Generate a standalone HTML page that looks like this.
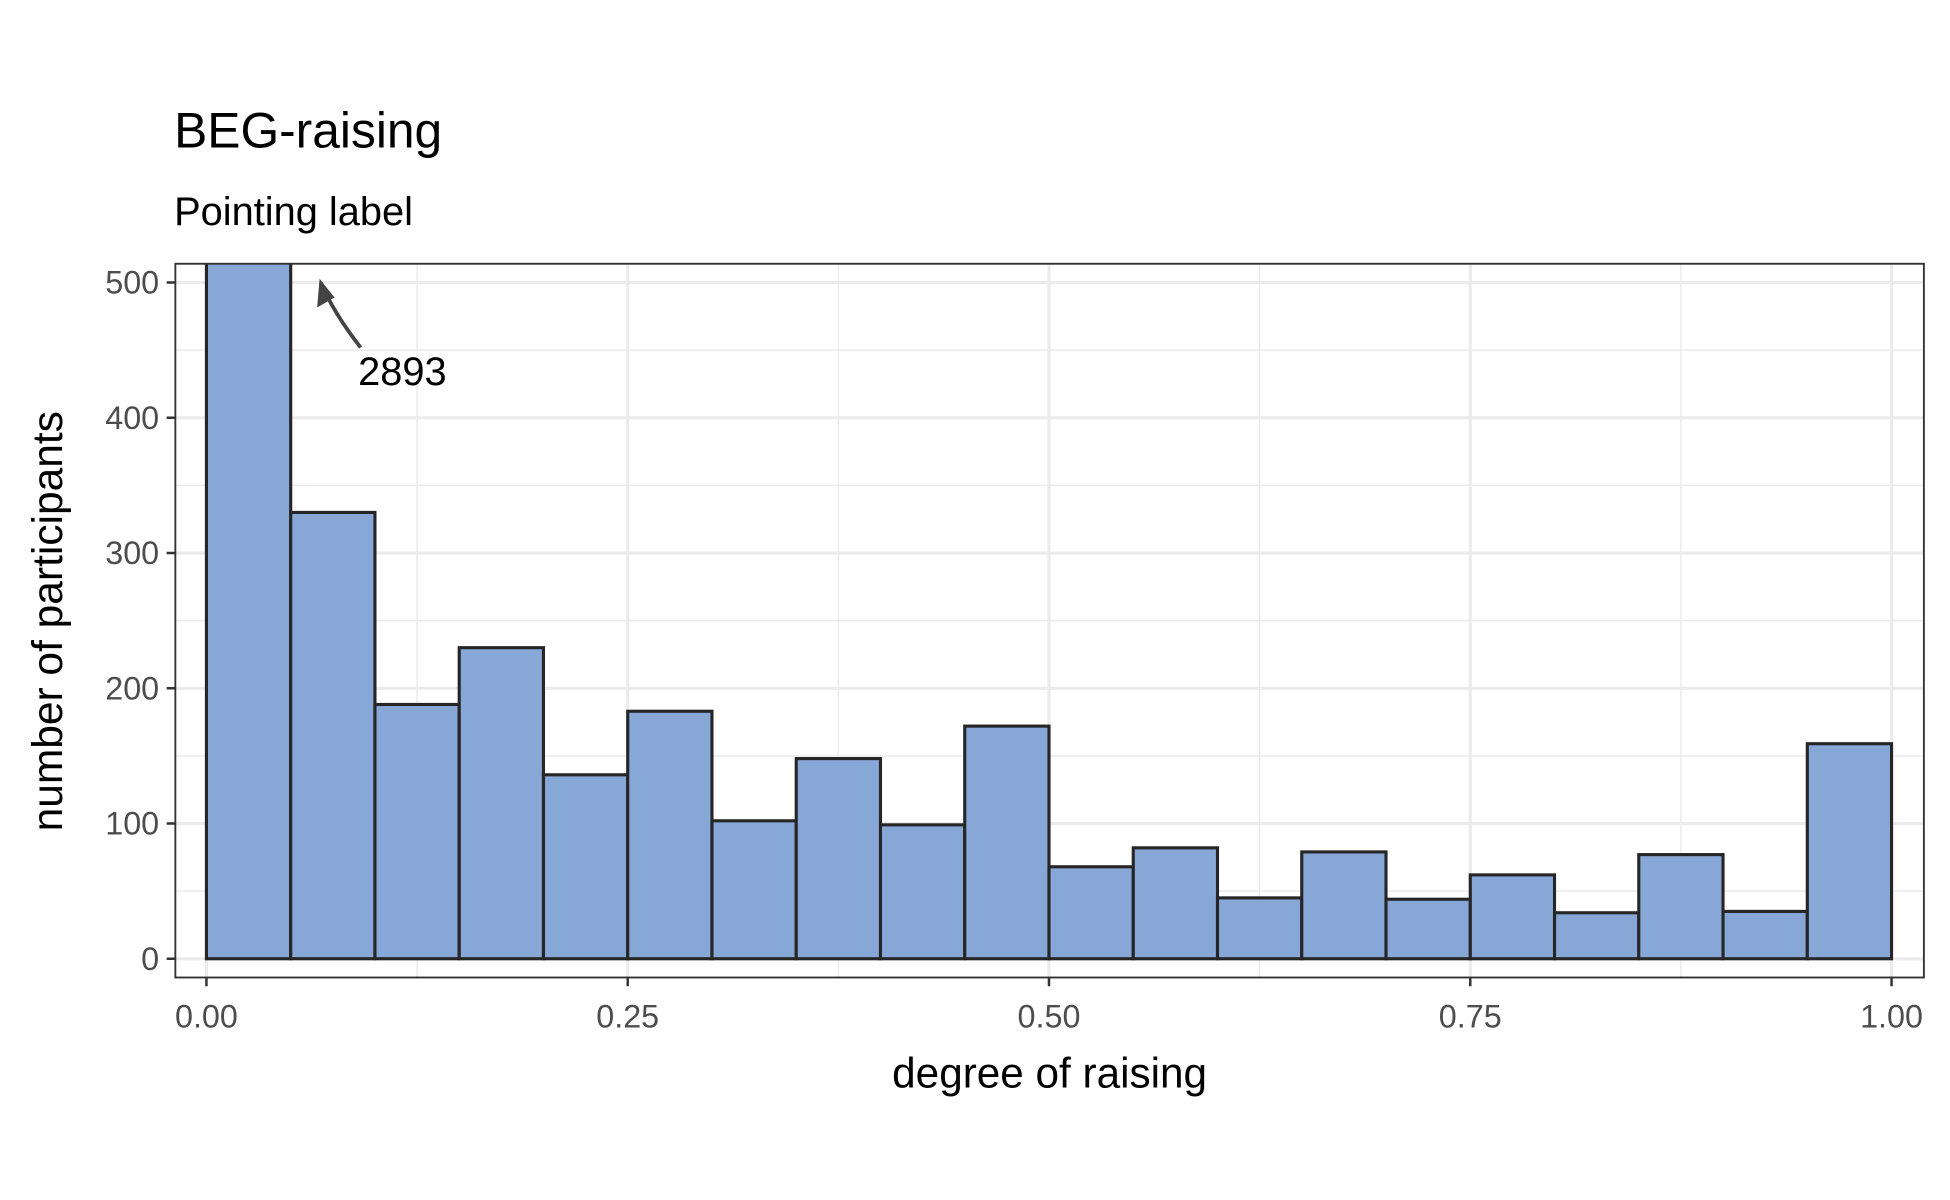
<!DOCTYPE html>
<html><head><meta charset="utf-8"><style>html,body{margin:0;padding:0;background:#fff}svg{display:block}text{font-family:"Liberation Sans",sans-serif}</style></head>
<body>
<svg id="chart" width="1950" height="1200" viewBox="0 0 1568 960" preserveAspectRatio="none" xmlns="http://www.w3.org/2000/svg">
<defs><clipPath id="panelClip"><rect x="141" y="211" width="1406" height="571"/></clipPath></defs>
<rect width="1568" height="960" fill="#fff"/>
<text x="140" y="118" font-size="40" fill="#000">BEG-raising</text>
<text x="140" y="180" font-size="32" fill="#000">Pointing label</text>
<g id="grid"></g>
<g id="bars" clip-path="url(#panelClip)"></g>
<rect x="141" y="211" width="1406" height="571" fill="none" stroke="#333" stroke-width="1.5"/>
<g id="axes"></g>
<path d="M290,278 Q268,250 258,226" fill="none" stroke="#444" stroke-width="3"/>
<path d="M257,223 L255,246 L269,238 Z" fill="#444"/>
<text x="288" y="308" font-size="32" fill="#000">2893</text>
<text x="844" y="870" font-size="34" text-anchor="middle" fill="#000">degree of raising</text>
<text transform="translate(50,497) rotate(-90)" font-size="34" text-anchor="middle" fill="#000">number of participants</text>
</svg>
<script>
const binStarts=[0,0.05,0.1,0.15,0.2,0.25,0.3,0.35,0.4,0.45,0.5,0.55,0.6,0.65,0.7,0.75,0.8,0.85,0.9,0.95];
const counts=[2893,330,188,230,136,183,102,148,99,172,68,82,45,79,44,62,34,77,35,159];
const binWidth=0.05;
const xTicks=[0,0.25,0.5,0.75,1];
const xTickLabels=["0.00","0.25","0.50","0.75","1.00"];
const yTicks=[0,100,200,300,400,500];
const NS="http://www.w3.org/2000/svg";
const yMax=514;
const X=v=>166+v*1355;
const Y=v=>767-v*1.082;
const panelTop=211;
function mk(t,a,p){const e=document.createElementNS(NS,t);for(const k in a)e.setAttribute(k,a[k]);p.appendChild(e);return e;}
const grid=document.getElementById('grid'),bars=document.getElementById('bars'),axes=document.getElementById('axes');
for(let i=0;i<yTicks.length;i++){
 const m=yTicks[i]+50;
 if(m<yMax){const l=mk('line',{x1:141,x2:1547,y1:Y(m),y2:Y(m),stroke:'#ebebeb','stroke-width':1.2},grid);
 
 }
 const l=mk('line',{x1:141,x2:1547,y1:Y(yTicks[i]),y2:Y(yTicks[i]),stroke:'#ebebeb','stroke-width':2.5},grid);
 
 
 const t=mk('line',{x1:134,x2:141,y1:Y(yTicks[i]),y2:Y(yTicks[i]),stroke:'#333','stroke-width':2},axes);
 
 
 const tx=mk('text',{x:128,y:Y(yTicks[i])+9,'font-size':26,'text-anchor':'end',fill:'#4d4d4d'},axes);tx.textContent=yTicks[i];
 
 
}
for(let i=0;i<xTicks.length;i++){
 if(i<xTicks.length-1){const m=xTicks[i]+0.125;const l=mk('line',{x1:X(m),x2:X(m),y1:211,y2:782,stroke:'#ebebeb','stroke-width':1.2},grid);
 
 }
 const l=mk('line',{x1:X(xTicks[i]),x2:X(xTicks[i]),y1:211,y2:782,stroke:'#ebebeb','stroke-width':2.5},grid);
 
 
 const t=mk('line',{x1:X(xTicks[i]),x2:X(xTicks[i]),y1:782,y2:789,stroke:'#333','stroke-width':2},axes);
 
 
 const tx=mk('text',{x:X(xTicks[i]),y:822,'font-size':26,'text-anchor':'middle',fill:'#4d4d4d'},axes);tx.textContent=xTickLabels[i];
 
 
}
for(let i=0;i<counts.length;i++){
 const y=Math.max(Y(Math.min(counts[i],yMax+5)),panelTop-5);
 const r=mk('rect',{x:X(binStarts[i]),y:y,width:X(binStarts[i]+binWidth)-X(binStarts[i]),height:Y(0)-y,fill:'#87a7d6',stroke:'#262626','stroke-width':2.5},bars);
 
 
}
</script>
</body></html>
